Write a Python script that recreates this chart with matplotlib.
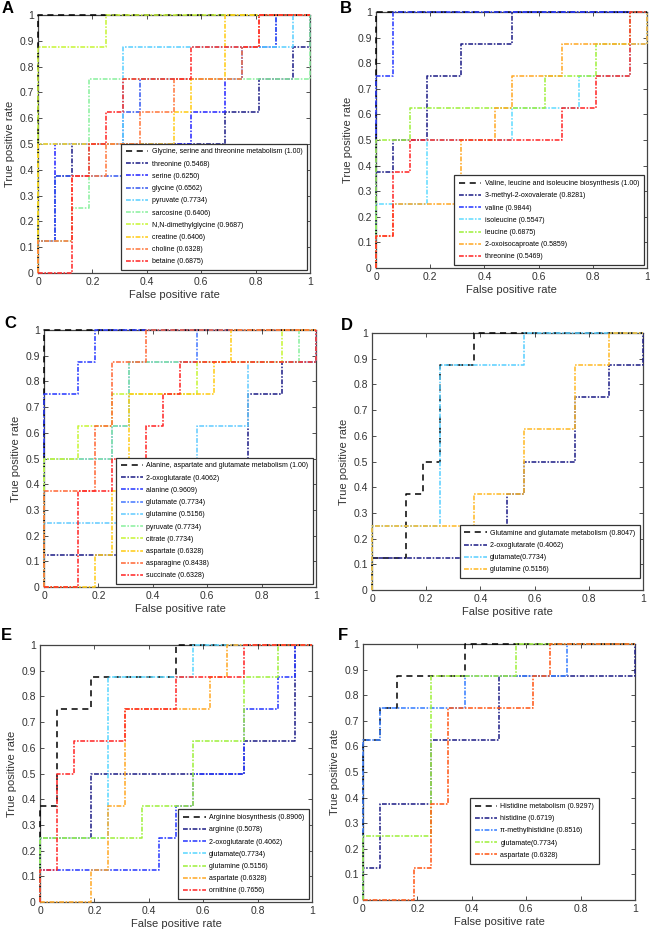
import matplotlib.pyplot as plt

plt.rcParams['font.family'] = ['Liberation Sans', 'DejaVu Sans']

# ROC step curves, vertices as (negatives passed, positives found): 16 controls, 8 cases
A_title = 'Glycine, serine and threonine metabolism (1.00)'
A_labels = ['threonine (0.5468)', 'serine (0.6250)', 'glycine (0.6562)', 'pyruvate (0.7734)',
            'sarcosine (0.6406)', 'N,N-dimethylglycine (0.9687)', 'creatine (0.6406)',
            'choline (0.6328)', 'betaine (0.6875)']
A_colors = ['#23238a', '#2b2bff', '#3a5cf0', '#5cd0ff', '#8cf0a0', '#c8f53a', '#ffcc1a',
            '#ff7a40', '#ff2a2a']
A_curves = [
    [(0, 0), (0, 1), (1, 1), (1, 3), (2, 3), (2, 4), (11, 4), (11, 5), (13, 5), (13, 6), (15, 6), (15, 7), (16, 7), (16, 8)],
    [(0, 0), (0, 1), (1, 1), (1, 4), (9, 4), (9, 5), (11, 5), (11, 6), (12, 6), (12, 7), (14, 7), (14, 8), (16, 8)],
    [(0, 0), (0, 1), (1, 1), (1, 3), (5, 3), (5, 5), (6, 5), (6, 6), (12, 6), (12, 7), (14, 7), (14, 8), (16, 8)],
    [(0, 0), (0, 4), (5, 4), (5, 7), (15, 7), (15, 8), (16, 8)],
    [(0, 0), (0, 1), (2, 1), (2, 2), (3, 2), (3, 6), (16, 6), (16, 8)],
    [(0, 0), (0, 7), (4, 7), (4, 8), (16, 8)],
    [(0, 0), (0, 4), (8, 4), (8, 5), (9, 5), (9, 6), (11, 6), (11, 8), (16, 8)],
    [(0, 0), (0, 1), (2, 1), (2, 3), (4, 3), (4, 4), (6, 4), (6, 5), (8, 5), (8, 6), (12, 6), (12, 7), (13, 7), (13, 8), (16, 8)],
    [(0, 0), (2, 0), (2, 3), (3, 3), (3, 4), (4, 4), (4, 5), (5, 5), (5, 6), (9, 6), (9, 7), (13, 7), (13, 8), (16, 8)],
]

B_title = 'Valine, leucine and isoleucine biosynthesis (1.00)'
B_labels = ['3-methyl-2-oxovalerate (0.8281)', 'valine (0.9844)', 'isoleucine (0.5547)',
            'leucine (0.6875)', '2-oxoisocaproate (0.5859)', 'threonine (0.5469)']
B_colors = ['#23238a', '#2b3cff', '#66ddff', '#a0f040', '#ffaa2a', '#ff2a2a']
B_curves = [
    [(0, 0), (0, 3), (1, 3), (1, 4), (3, 4), (3, 6), (5, 6), (5, 7), (8, 7), (8, 8), (16, 8)],
    [(0, 0), (0, 6), (1, 6), (1, 8), (16, 8)],
    [(0, 0), (0, 2), (3, 2), (3, 4), (8, 4), (8, 5), (12, 5), (12, 6), (15, 6), (15, 7), (16, 7), (16, 8)],
    [(0, 0), (0, 4), (2, 4), (2, 5), (10, 5), (10, 6), (13, 6), (13, 7), (15, 7), (15, 8), (16, 8)],
    [(0, 0), (0, 1), (1, 1), (1, 2), (5, 2), (5, 4), (7, 4), (7, 5), (8, 5), (8, 6), (11, 6), (11, 7), (16, 7), (16, 8)],
    [(0, 0), (0, 1), (1, 1), (1, 3), (2, 3), (2, 4), (11, 4), (11, 5), (13, 5), (13, 6), (15, 6), (15, 8), (16, 8)],
]

C_title = 'Alanine, aspartate and glutamate metabolism (1.00)'
C_labels = ['2-oxoglutarate (0.4062)', 'alanine (0.9609)', 'glutamate (0.7734)',
            'glutamine (0.5156)', 'pyruvate (0.7734)', 'citrate (0.7734)', 'aspartate (0.6328)',
            'asparagine (0.8438)', 'succinate (0.6328)']
C_colors = ['#23238a', '#2b3cff', '#4a7cff', '#66ccff', '#8cf0a0', '#c8f53a', '#ffcc1a',
            '#ff6a3a', '#ff2a2a']
C_curves = [
    [(0, 0), (0, 1), (6, 1), (6, 2), (7, 2), (7, 3), (9, 3), (9, 4), (12, 4), (12, 6), (14, 6), (14, 7), (16, 7), (16, 8)],
    [(0, 0), (0, 6), (2, 6), (2, 7), (3, 7), (3, 8), (16, 8)],
    [(0, 0), (0, 4), (4, 4), (4, 5), (5, 5), (5, 7), (9, 7), (9, 8), (16, 8)],
    [(0, 0), (0, 2), (6, 2), (6, 4), (9, 4), (9, 5), (12, 5), (12, 7), (16, 7), (16, 8)],
    [(0, 0), (0, 4), (4, 4), (4, 5), (5, 5), (5, 7), (15, 7), (15, 8), (16, 8)],
    [(0, 0), (0, 4), (2, 4), (2, 5), (4, 5), (4, 6), (9, 6), (9, 7), (14, 7), (14, 8), (16, 8)],
    [(0, 0), (3, 0), (3, 1), (4, 1), (4, 3), (5, 3), (5, 6), (10, 6), (10, 7), (11, 7), (11, 8), (16, 8)],
    [(0, 0), (0, 3), (3, 3), (3, 5), (4, 5), (4, 7), (6, 7), (6, 8), (16, 8)],
    [(0, 0), (2, 0), (2, 3), (4, 3), (4, 4), (6, 4), (6, 5), (7, 5), (7, 6), (8, 6), (8, 7), (16, 7), (16, 8)],
]

D_title = 'Glutamine and glutamate metabolism (0.8047)'
D_title_curve = [(0, 0), (0, 1), (2, 1), (2, 3), (3, 3), (3, 4), (4, 4), (4, 7), (6, 7), (6, 8), (16, 8)]
D_labels = ['2-oxoglutarate (0.4062)', 'glutamate(0.7734)', 'glutamine (0.5156)']
D_colors = ['#23238a', '#5cd0ff', '#ffbb2a']
D_curves = [
    [(0, 0), (0, 1), (6, 1), (6, 2), (8, 2), (8, 3), (9, 3), (9, 4), (12, 4), (12, 6), (14, 6), (14, 7), (16, 7), (16, 8)],
    [(0, 0), (0, 2), (4, 2), (4, 7), (9, 7), (9, 8), (16, 8)],
    [(0, 0), (0, 2), (6, 2), (6, 3), (9, 3), (9, 5), (12, 5), (12, 7), (14, 7), (14, 8), (16, 8)],
]

E_title = 'Arginine biosynthesis (0.8906)'
E_title_curve = [(0, 0), (0, 3), (1, 3), (1, 6), (3, 6), (3, 7), (8, 7), (8, 8), (16, 8)]
E_labels = ['arginine (0.5078)', '2-oxoglutarate (0.4062)', 'glutamate(0.7734)',
            'glutamine (0.5156)', 'aspartate (0.6328)', 'ornithine (0.7656)']
E_colors = ['#23238a', '#2b3cff', '#5cd8ff', '#a0f040', '#ffaa2a', '#ff2a2a']
E_curves = [
    [(0, 0), (0, 2), (3, 2), (3, 4), (12, 4), (12, 5), (15, 5), (15, 8), (16, 8)],
    [(0, 0), (0, 1), (7, 1), (7, 2), (8, 2), (8, 3), (9, 3), (9, 4), (12, 4), (12, 6), (14, 6), (14, 7), (15, 7), (15, 8), (16, 8)],
    [(0, 0), (0, 2), (4, 2), (4, 7), (9, 7), (9, 8), (16, 8)],
    [(0, 0), (0, 2), (6, 2), (6, 3), (9, 3), (9, 5), (12, 5), (12, 7), (14, 7), (14, 8), (16, 8)],
    [(0, 0), (3, 0), (3, 1), (4, 1), (4, 3), (5, 3), (5, 6), (10, 6), (10, 7), (11, 7), (11, 8), (16, 8)],
    [(0, 0), (0, 1), (1, 1), (1, 4), (2, 4), (2, 5), (5, 5), (5, 6), (8, 6), (8, 7), (12, 7), (12, 8), (16, 8)],
]

F_title = 'Histidine metabolism (0.9297)'
F_title_curve = [(0, 0), (0, 5), (1, 5), (1, 6), (2, 6), (2, 7), (6, 7), (6, 8), (16, 8)]
F_labels = ['histidine (0.6719)', 'π-methylhistidine (0.8516)', 'glutamate(0.7734)',
            'aspartate (0.6328)']
F_colors = ['#23238a', '#3a80ff', '#a0f040', '#ff5a1a']
F_curves = [
    [(0, 0), (0, 1), (1, 1), (1, 3), (4, 3), (4, 5), (8, 5), (8, 7), (16, 7), (16, 8)],
    [(0, 0), (0, 5), (1, 5), (1, 6), (6, 6), (6, 7), (12, 7), (12, 8), (16, 8)],
    [(0, 0), (0, 2), (4, 2), (4, 7), (9, 7), (9, 8), (16, 8)],
    [(0, 0), (3, 0), (3, 1), (4, 1), (4, 3), (5, 3), (5, 6), (10, 6), (10, 7), (11, 7), (11, 8), (16, 8)],
]

PERFECT = [(0, 0), (0, 8), (16, 8)]

W, H = 650, 930
fig = plt.figure(figsize=(W / 100, H / 100), dpi=100)


def draw_panel(box, letter, letter_xy, title, title_curve, labels, colors, curves, leg_kw):
    left, right, top, bottom = box
    ax = fig.add_axes([left / W, 1 - bottom / H, (right - left) / W, (bottom - top) / H])

    xs = [p[0] / 16 for p in title_curve]
    ys = [p[1] / 8 for p in title_curve]
    ax.plot(xs, ys, color='black', lw=1.1, ls=(0, (4, 3)), label=title, clip_on=False, zorder=3)
    for lab, col, cur in zip(labels, colors, curves):
        xs = [p[0] / 16 for p in cur]
        ys = [p[1] / 8 for p in cur]
        ax.plot(xs, ys, color=col, lw=1.15, ls=(0, (3, 1, 1, 1)), label=lab, clip_on=False, zorder=3)

    ax.set_xlim(0, 1)
    ax.set_ylim(0, 1)
    ax.set_xticks([0, 0.2, 0.4, 0.6, 0.8, 1])
    ax.set_xticklabels(['0', '0.2', '0.4', '0.6', '0.8', '1'])
    ax.set_yticks([i / 10 for i in range(11)])
    ax.set_yticklabels(['0'] + ['0.%d' % i for i in range(1, 10)] + ['1'])
    ax.tick_params(direction='in', top=True, right=True, length=3, width=0.6,
                   labelsize=7.5, colors='#333333', pad=3)
    for s in ax.spines.values():
        s.set_color('#444444')
        s.set_linewidth(0.9)
    ax.set_xlabel('False positive rate', fontsize=8, color='#333333', labelpad=2)
    ax.set_ylabel('True positive rate', fontsize=8, color='#333333', labelpad=3)

    leg = ax.legend(fontsize=5, frameon=True, fancybox=False, framealpha=1,
                    edgecolor='#333333', handlelength=3.2, handletextpad=0.5,
                    labelspacing=0.75, borderpad=0.7, **leg_kw)
    leg.get_frame().set_linewidth(0.9)

    fig.text(letter_xy[0] / W, 1 - letter_xy[1] / H, letter, fontsize=12,
             fontweight='bold', ha='left', va='top')
    return ax


draw_panel((38, 310, 15, 273), 'A', (2, 1), A_title, PERFECT, A_labels, A_colors, A_curves,
           dict(loc='lower right', borderaxespad=0.4))
draw_panel((376, 647, 12, 268), 'B', (340, 1), B_title, PERFECT, B_labels, B_colors, B_curves,
           dict(loc='lower right', borderaxespad=0.4))
draw_panel((44, 316, 330, 587), 'C', (4, 316), C_title, PERFECT, C_labels, C_colors, C_curves,
           dict(loc='lower right', borderaxespad=0.4))
draw_panel((372, 643, 333, 590), 'D', (341, 318), D_title, D_title_curve, D_labels, D_colors, D_curves,
           dict(loc='lower right', borderaxespad=0.4, bbox_to_anchor=(1, 0.035)))
draw_panel((40, 312, 645, 902), 'E', (1, 628), E_title, E_title_curve, E_labels, E_colors, E_curves,
           dict(loc='lower right', borderaxespad=0.4))
draw_panel((363, 635, 644, 900), 'F', (338, 628), F_title, F_title_curve, F_labels, F_colors, F_curves,
           dict(loc='center', bbox_to_anchor=(0.63, 0.27)))

plt.savefig('out.png', dpi=100)
